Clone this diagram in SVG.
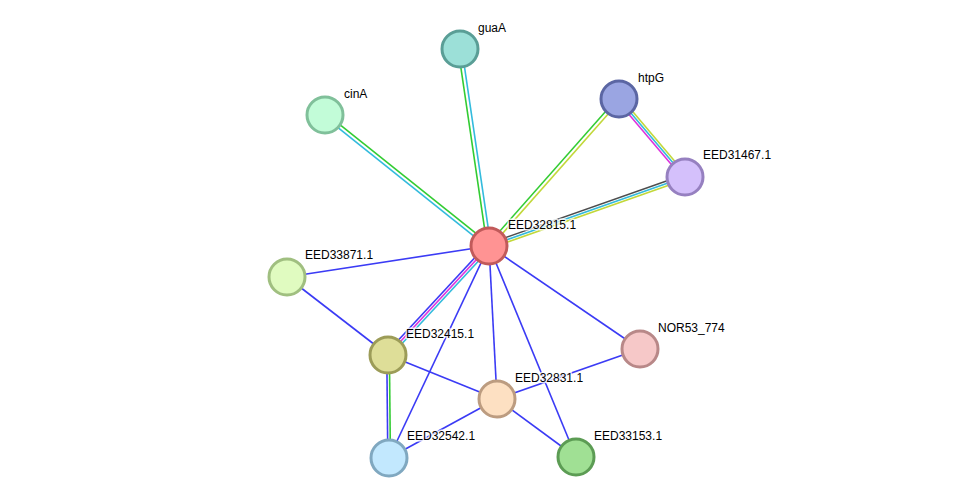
<svg xmlns="http://www.w3.org/2000/svg" width="976" height="503" viewBox="0 0 976 503">
<style>
.e line{stroke-width:1.6;fill:none}
.b{stroke:#3b3bf5}.g{stroke:#33cc33}.c{stroke:#33bbdd}.y{stroke:#c2d83a}.k{stroke:#4d4d4d}.m{stroke:#dd33dd}
.n circle{stroke-width:3}
.n text{font-family:"Liberation Sans",Arial,sans-serif;font-size:12px;fill:#000;stroke:#fff;stroke-width:3;stroke-opacity:0.8;paint-order:stroke;stroke-linejoin:round}
</style>
<rect width="976" height="503" fill="#fff"/>
<g id="connectors" class="e">
<line class="g" x1="487.2" y1="246.3" x2="458.2" y2="49.3"/>
<line class="c" x1="490.8" y1="245.7" x2="461.8" y2="48.7"/>
<line class="g" x1="490.1" y1="244.6" x2="326.1" y2="113.6"/>
<line class="c" x1="487.9" y1="247.4" x2="323.9" y2="116.4"/>
<line class="g" x1="487.7" y1="244.8" x2="617.7" y2="97.8"/>
<line class="y" x1="490.3" y1="247.2" x2="620.3" y2="100.2"/>
<line class="k" x1="488.2" y1="243.7" x2="684.2" y2="174.7"/>
<line class="c" x1="489" y1="246" x2="685" y2="177"/>
<line class="y" x1="489.8" y1="248.3" x2="685.8" y2="179.3"/>
<line class="m" x1="617.2" y1="100.6" x2="683.2" y2="178.6"/>
<line class="c" x1="619" y1="99" x2="685" y2="177"/>
<line class="y" x1="620.8" y1="97.4" x2="686.8" y2="175.4"/>
<line class="b" x1="487.2" y1="244.3" x2="386.2" y2="353.3"/>
<line class="m" x1="489" y1="246" x2="388" y2="355"/>
<line class="c" x1="490.8" y1="247.7" x2="389.8" y2="356.7"/>
<line class="b" x1="489" y1="246" x2="287" y2="277"/>
<line class="b" x1="489" y1="246" x2="389" y2="458"/>
<line class="b" x1="489" y1="246" x2="497" y2="399"/>
<line class="b" x1="489" y1="246" x2="576" y2="457"/>
<line class="b" x1="489" y1="246" x2="640" y2="349"/>
<line class="b" x1="287" y1="277" x2="388" y2="355"/>
<line class="b" x1="388" y1="355" x2="497" y2="399"/>
<line class="b" x1="386.8" y1="355" x2="387.8" y2="458"/>
<line class="g" x1="389.4" y1="355" x2="390.4" y2="458"/>
<line class="b" x1="497" y1="399" x2="389" y2="458"/>
<line class="b" x1="497" y1="399" x2="576" y2="457"/>
<line class="b" x1="497" y1="399" x2="640" y2="349"/>
</g>
<g id="EED32815.1" class="n"><circle cx="489" cy="246" r="18" fill="#ff9393" stroke="#c15a5a"/><text x="508" y="229">EED32815.1</text></g>
<g id="guaA" class="n"><circle cx="460" cy="49" r="18" fill="#9ce0d8" stroke="#5a9e96"/><text x="478" y="32">guaA</text></g>
<g id="cinA" class="n"><circle cx="325" cy="115" r="18" fill="#c2fcd8" stroke="#80c09a"/><text x="344" y="98">cinA</text></g>
<g id="htpG" class="n"><circle cx="619" cy="99" r="18" fill="#9aa5e2" stroke="#5b66a3"/><text x="638" y="82">htpG</text></g>
<g id="EED31467.1" class="n"><circle cx="685" cy="177" r="18" fill="#d4c0fb" stroke="#9680c0"/><text x="703" y="159">EED31467.1</text></g>
<g id="EED33871.1" class="n"><circle cx="287" cy="277" r="18" fill="#e0fbc0" stroke="#a0bf80"/><text x="305" y="259">EED33871.1</text></g>
<g id="EED32415.1" class="n"><circle cx="388" cy="355" r="18" fill="#dede98" stroke="#9c9c58"/><text x="406" y="338">EED32415.1</text></g>
<g id="NOR53_774" class="n"><circle cx="640" cy="349" r="18" fill="#f6c8c8" stroke="#b88888"/><text x="658" y="332">NOR53_774</text></g>
<g id="EED32831.1" class="n"><circle cx="497" cy="399" r="18" fill="#fde0c2" stroke="#bc9c80"/><text x="515" y="382">EED32831.1</text></g>
<g id="EED32542.1" class="n"><circle cx="389" cy="458" r="18" fill="#c2e8fe" stroke="#80a8c0"/><text x="407" y="440">EED32542.1</text></g>
<g id="EED33153.1" class="n"><circle cx="576" cy="457" r="18" fill="#a0e094" stroke="#5c9c54"/><text x="594" y="440">EED33153.1</text></g>
</svg>
